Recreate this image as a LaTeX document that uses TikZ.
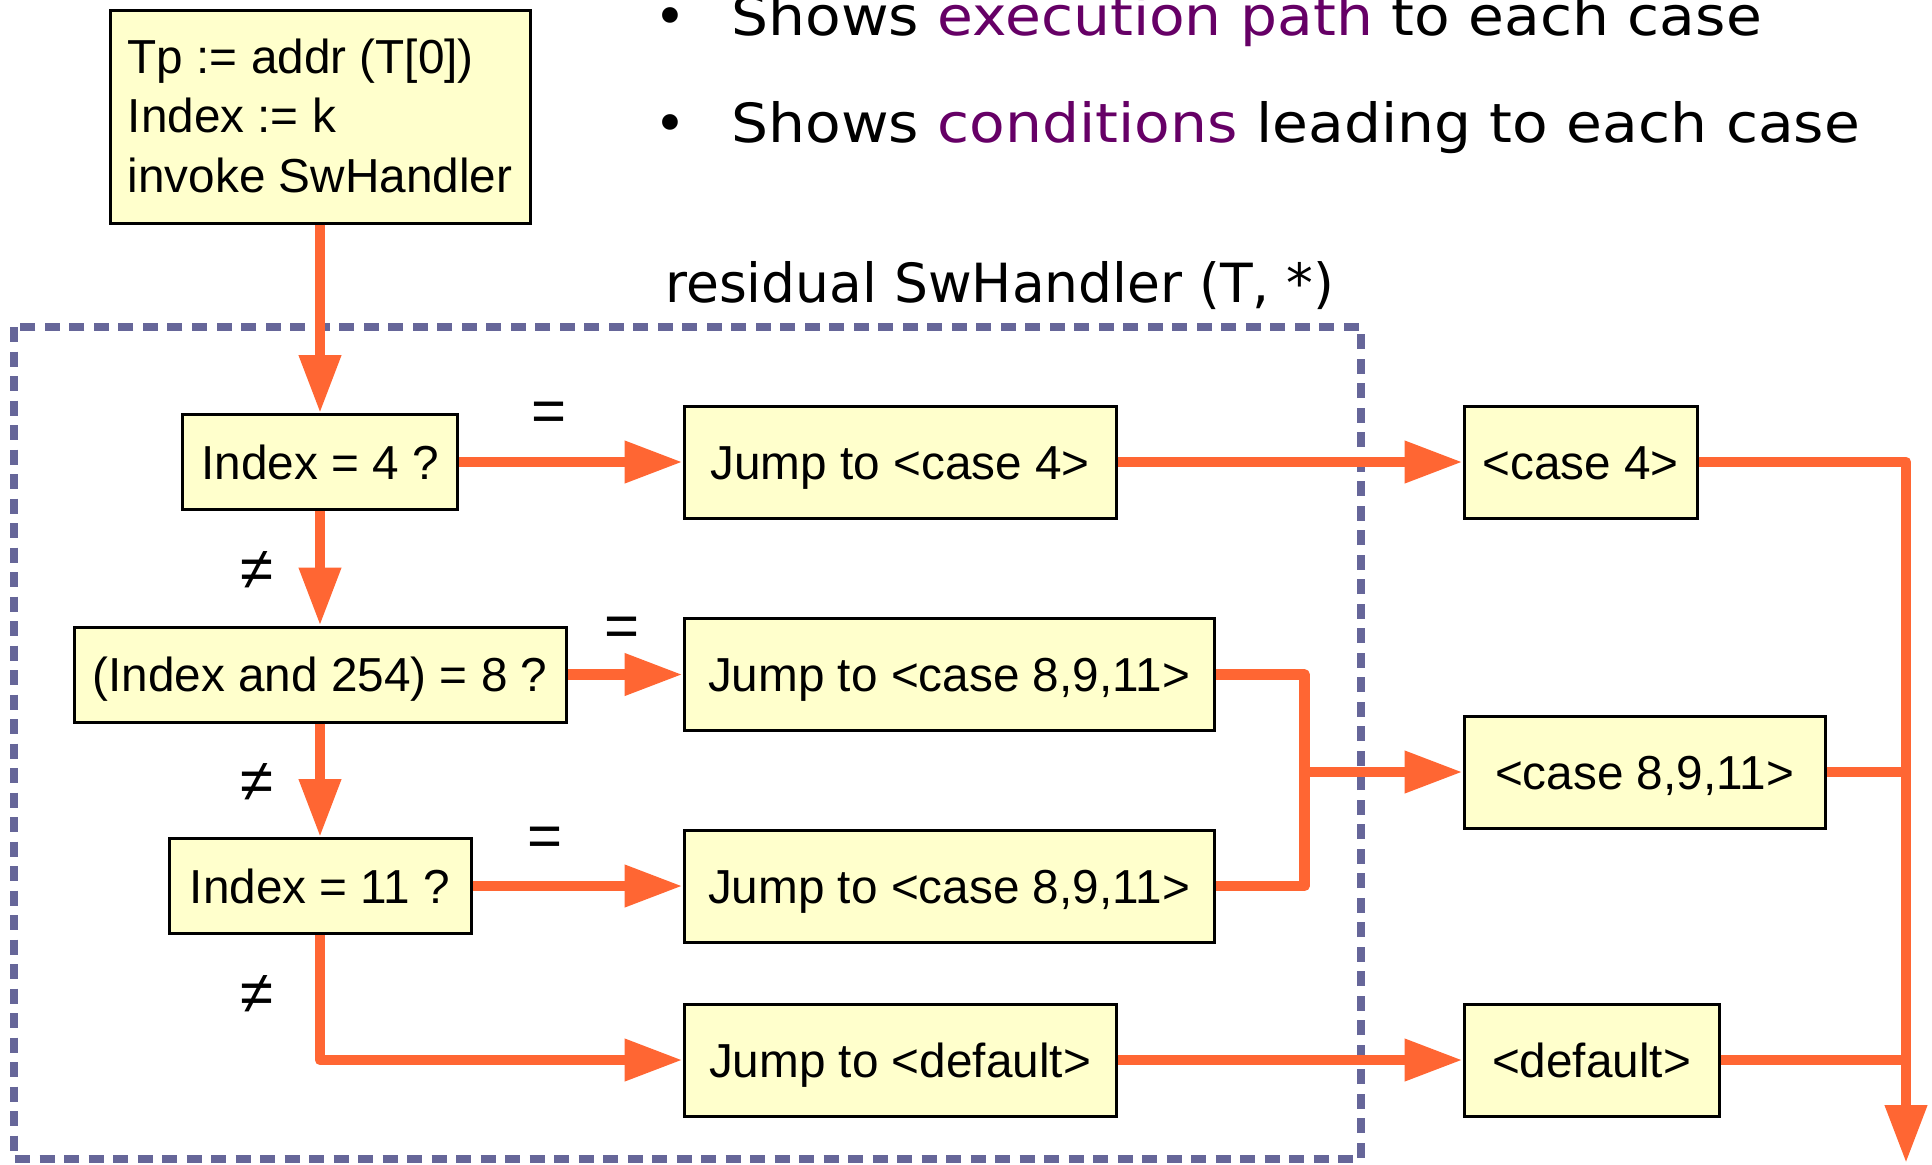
\documentclass[tikz,border=0pt]{standalone}
\usepackage{fontspec}
\usepackage{graphicx}
\setmainfont{Liberation Sans}
\newfontfamily\dejavu{DejaVu Sans}
\usetikzlibrary{arrows.meta,calc}
\definecolor{flow}{RGB}{255,102,51}
\definecolor{boxfill}{RGB}{255,255,204}
\definecolor{frame}{RGB}{102,102,153}
\definecolor{accent}{RGB}{102,0,102}

\begin{document}
\begin{tikzpicture}[x=0.5pt,y=-0.5pt,
  boxbase/.style={draw=black, line width=1.5pt, fill=boxfill, inner sep=0pt,
    font=\fontsize{23.85}{29.75}\selectfont},
  box/.style={boxbase, minimum height=56pt, text height=17.1pt, text depth=0pt},
  test/.style={box, minimum height=47.5pt},
  flowline/.style={draw=flow, line width=5.25pt, line join=round},
  flowarrow/.style={flowline, -{Triangle[length=29pt,width=20pt]}},
  cond/.style={font=\fontsize{30}{30}\selectfont, inner sep=0pt},
  note/.style={font=\dejavu\fontsize{27}{27}\selectfont, anchor=base west, inner sep=0pt},
  frameline/.style={draw=frame, line width=3.9pt, dash pattern=on 7.5pt off 4.75pt}
]
\useasboundingbox (0,0) rectangle (1932,1164);

% explanatory bullets and title of the residual handler
\node[note, anchor=base] (dot1) at (670,35) {•};
\node[note] (b1) at (731,35) {\scalebox{1.08}[1]{Shows \textcolor{accent}{execution path} to each case}};
\node[note, anchor=base] (dot2) at (670,142) {•};
\node[note] (b2) at (731,142) {\scalebox{1.08}[1]{Shows \textcolor{accent}{conditions} leading to each case}};
\node[note] (title) at (665,302) {\scalebox{0.99}[1]{residual SwHandler (T, *)}};

% residual handler frame
\draw[frameline] (14,327) rectangle (1361,1159);

% call site
\node[boxbase, align=left, minimum width=210pt, minimum height=106.5pt]
  (start) at (320,116.5)
  {\rule{0pt}{20pt}Tp := addr (T[0])\\Index := k\\invoke SwHandler\rule[-4pt]{0pt}{4pt}};

% tests
\node[test, minimum width=137.5pt] (q4)  at (320,462)   {Index = 4 ?};
\node[test, minimum width=246pt]   (q8)  at (320,674.5) {(Index and 254) = 8 ?};
\node[test, minimum width=151pt]   (q11) at (320,886)   {Index = 11 ?};

% jumps
\node[box, minimum width=216pt] (j4)  at (900,462)   {Jump to <case 4>};
\node[box, minimum width=265pt] (j8)  at (949,674.5) {Jump to <case 8,9,11>};
\node[box, minimum width=265pt] (j11) at (949,886)   {Jump to <case 8,9,11>};
\node[box, minimum width=216pt] (jd)  at (900,1060)  {Jump to <default>};

% case bodies
\node[box, minimum width=116.5pt] (c4) at (1580.5,462)  {<case 4>};
\node[box, minimum width=180.5pt] (c8) at (1644.5,772)  {<case 8,9,11>};
\node[box, minimum width=127.5pt] (cd) at (1591.5,1060) {<default>};

\coordinate (merge) at (1304.5,772);
\coordinate (exit) at (1906,1163);

% control flow
\draw[flowarrow] (start) -- (q4);
\draw[flowarrow] (q4) -- (q8);
\draw[flowarrow] (q8) -- (q11);
\draw[flowarrow] (q11.south) |- (jd.west);
\draw[flowarrow] (q4.east) -- (j4.west);
\draw[flowarrow] (q8.east) -- (j8.west);
\draw[flowarrow] (q11.east) -- (j11.west);
\draw[flowarrow] (j4.east) -- (c4.west);
\draw[flowarrow] (jd.east) -- (cd.west);
\draw[flowline] (j8.east) -| (merge) |- (j11.east);
\draw[flowarrow] (merge) -- (c8.west);
\draw[flowarrow] (c4.east) -| (exit);
\draw[flowline] (c8.east) -- (c8.east -| exit);
\draw[flowline] (cd.east) -- (cd.east -| exit);

% branch conditions
\node[cond] (eq1) at (549.5,417) {=};
\node[cond] (eq2) at (622,632)   {=};
\node[cond] (eq3) at (545,842)   {=};
\node[cond] (ne1) at (257,570)   {≠};
\node[cond] (ne2) at (257,782)   {≠};
\node[cond] (ne3) at (257,994)   {≠};
\end{tikzpicture}
\end{document}
